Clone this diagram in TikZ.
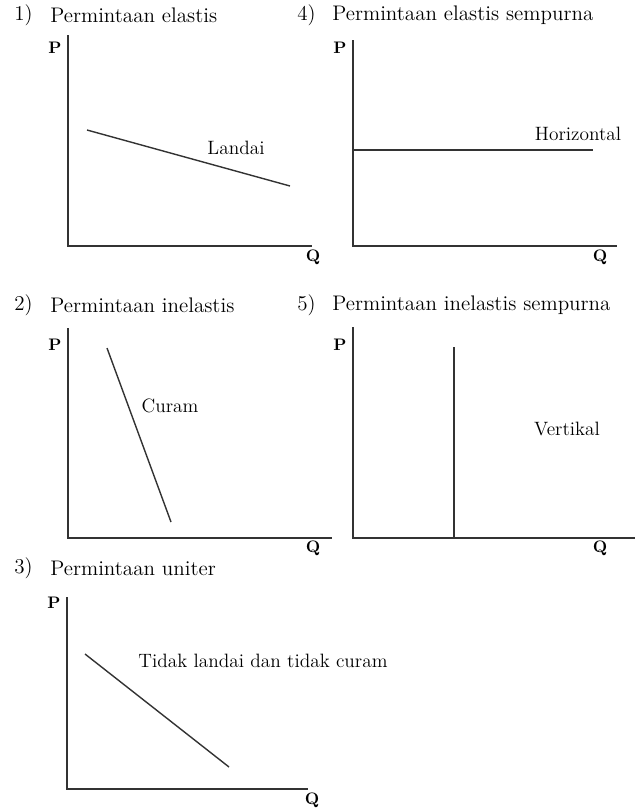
\documentclass[tikz,border=0pt]{standalone}
\usepackage{tikz}

\begin{document}
\begin{tikzpicture}[x=0.02cm,y=-0.02cm,
  axis/.style={draw,line width=1.1pt,color=black!80},
  kurva/.style={draw,line width=0.8pt,color=black!80},
  judul/.style={anchor=west,inner sep=0pt,font=\fontsize{12}{14}\selectfont},
  lbl/.style={inner sep=0pt,font=\fontsize{11}{13}\selectfont},
  sumbu/.style={inner sep=0pt,font=\fontsize{9.5}{11}\selectfont\bfseries}]
\useasboundingbox (0,0) rectangle (635,809);

% 1) elastis
\node[judul] (n1) at (14,15) {1)};
\node[judul] (t1) at (50,15) {Permintaan elastis};
\path[axis] (68,35) -- (68,246) -- (312,246);
\path[kurva] (87,130) -- (290,186);
\node[sumbu] (p1) at (55,48) {P};
\node[sumbu] (q1) at (313,257) {Q};
\node[lbl] (l1) at (236,148) {Landai};

% 4) elastis sempurna
\node[judul] (n4) at (297,15) {4)};
\node[judul] (t4) at (332,15) {Permintaan elastis sempurna};
\path[axis] (353,40) -- (353,246) -- (617,246);
\path[kurva] (353,150) -- (593,150);
\node[sumbu] (p4) at (340,48) {P};
\node[sumbu] (q4) at (600,257) {Q};
\node[lbl] (l4) at (578,134) {Horizontal};

% 2) inelastis
\node[judul] (n2) at (14,305) {2)};
\node[judul] (t2) at (50,305) {Permintaan inelastis};
\path[axis] (68,328) -- (68,538) -- (332,538);
\path[kurva] (107,348) -- (171,522);
\node[sumbu] (p2) at (55,345) {P};
\node[sumbu] (q2) at (313,548) {Q};
\node[lbl] (l2) at (170,406) {Curam};

% 5) inelastis sempurna
\node[judul] (n5) at (297,305) {5)};
\node[judul] (t5) at (332,305) {Permintaan inelastis sempurna};
\path[axis] (353,327) -- (353,538) -- (635,538);
\path[kurva] (454,347) -- (454,538);
\node[sumbu] (p5) at (340,345) {P};
\node[sumbu] (q5) at (600,548) {Q};
\node[lbl] (l5) at (567,429) {Vertikal};

% 3) uniter
\node[judul] (n3) at (14,568) {3)};
\node[judul] (t3) at (50,568) {Permintaan uniter};
\path[axis] (67,597) -- (67,789) -- (308,789);
\path[kurva] (85,654) -- (229,767);
\node[sumbu] (p3) at (54,603) {P};
\node[sumbu] (q3) at (312,800) {Q};
\node[lbl] (l3) at (263,661) {Tidak landai dan tidak curam};
\end{tikzpicture}
\end{document}
